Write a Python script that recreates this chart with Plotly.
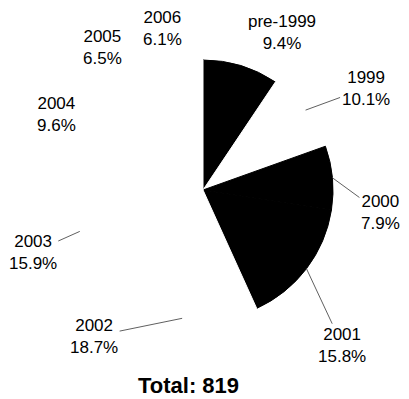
import numpy as np
import plotly.graph_objects as go

# counts per submission year (total 819)
years = ["pre-1999", "1999", "2000", "2001", "2002", "2003", "2004", "2005", "2006"]
counts = [77, 83, 65, 129, 153, 130, 79, 53, 50]
colors = ["black", "white", "black", "black", "white", "white", "white", "white", "white"]

# where each label sits, relative to the slice's outer midpoint (pixels)
label_dx = [41, 60, 48, 36, -88, -47, -31, -29, -16]
label_dy = [-33, -22, 35, 77, 18, 21, -16, -34, -34]
has_line = [False, True, True, True, True, True, False, False, False]

total = sum(counts)
pct = [100 * c / total for c in counts]

fig = go.Figure(go.Pie(
    labels=years,
    values=counts,
    sort=False,
    direction="clockwise",
    rotation=0,
    marker=dict(colors=colors, line=dict(color=colors, width=1)),
    textinfo="none",
    hoverinfo="label+percent",
    showlegend=False,
))

# outer midpoint of each slice in paper coords (pie fills the plot area)
cum = np.cumsum(counts)
mid = (cum - np.array(counts) / 2) / total * 2 * np.pi
px = 0.5 + 0.5 * np.sin(mid)
py = 0.5 + 0.5 * np.cos(mid)

for i in range(len(years)):
    fig.add_annotation(
        x=px[i], y=py[i], xref="paper", yref="paper",
        text=years[i] + "<br>" + "%.1f%%" % pct[i],
        showarrow=True,
        arrowhead=0, arrowwidth=1, arrowcolor="#606060" if has_line[i] else "rgba(0,0,0,0)",
        ax=label_dx[i], ay=label_dy[i],
        font=dict(size=17, color="black"),
        align="center",
    )

fig.add_annotation(
    x=0.446, y=-0.308, xref="paper", yref="paper",
    text="<b>Total: %d</b>" % total,
    showarrow=False,
    font=dict(size=22, color="black"),
)

# page body has an 8px margin, so the figure is a bit smaller than the window
fig.update_layout(
    width=401, height=391,
    margin=dict(l=65, r=76, t=52, b=79),
    paper_bgcolor="white",
    plot_bgcolor="white",
    font=dict(family="Liberation Sans, Arial, sans-serif"),
)

fig.write_html("out.html")
